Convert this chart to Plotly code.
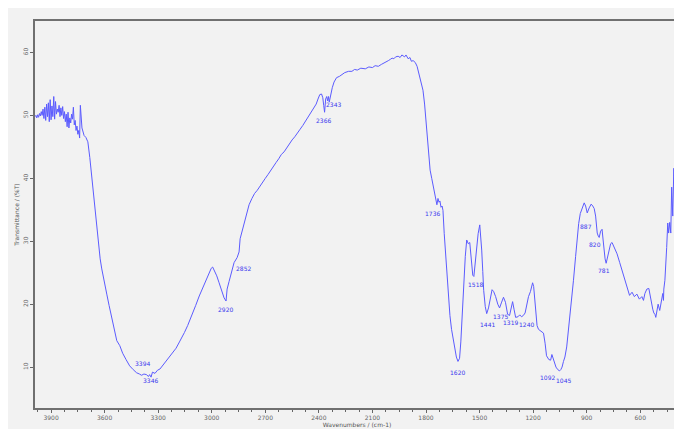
import plotly.graph_objects as go

# ---- spectrum data (wavenumber cm-1, transmittance %T) ----
wavenumber = [
    3990, 3985, 3980, 3975, 3970, 3965, 3960, 3955, 3950, 3945, 3940, 3935, 3930, 3925,
    3920, 3915, 3910, 3905, 3900, 3895, 3890, 3885, 3880, 3875, 3870, 3865, 3860, 3855,
    3850, 3845, 3840, 3835, 3830, 3825, 3820, 3815, 3810, 3805, 3800, 3795, 3790, 3785,
    3780, 3775, 3770, 3765, 3760, 3755, 3750, 3745, 3740, 3736, 3727, 3715, 3705, 3694,
    3683, 3670, 3655, 3638, 3625, 3616, 3600, 3588, 3575, 3560, 3543, 3532, 3515, 3499,
    3480, 3460, 3440, 3421, 3405, 3393, 3380, 3365, 3355, 3348, 3340, 3332, 3318, 3304,
    3290, 3276, 3262, 3248, 3234, 3220, 3200, 3181, 3165, 3153, 3135, 3115, 3090, 3070,
    3050, 3031, 3015, 3003, 2995, 2986, 2972, 2959, 2945, 2931, 2920, 2914, 2903, 2892,
    2875, 2858, 2847, 2841, 2830, 2819, 2805, 2791, 2775, 2760, 2745, 2730, 2715, 2700,
    2685, 2670, 2655, 2640, 2625, 2610, 2595, 2580, 2565, 2550, 2535, 2520, 2505, 2490,
    2475, 2460, 2445, 2430, 2415, 2405, 2395, 2385, 2378, 2373, 2368, 2362, 2356, 2351,
    2346, 2342, 2335, 2325, 2315, 2301, 2285, 2270, 2255, 2234, 2215, 2200, 2185, 2165,
    2140, 2120, 2100, 2085, 2067, 2050, 2035, 2020, 2011, 2000, 1990, 1980, 1970, 1956,
    1945, 1935, 1928, 1920, 1912, 1905, 1900, 1890, 1882, 1872, 1860, 1850, 1844, 1830,
    1817, 1808, 1800, 1790, 1777, 1768, 1761, 1750, 1744, 1739, 1733, 1727, 1722, 1716,
    1710, 1705, 1698, 1688, 1677, 1666, 1657, 1649, 1640, 1630, 1621, 1612, 1605, 1599,
    1590, 1580, 1572, 1563, 1555, 1549, 1544, 1538, 1532, 1524, 1516, 1508, 1499, 1493,
    1488, 1482, 1477, 1468, 1460, 1450, 1440, 1430, 1421, 1410, 1398, 1388, 1378, 1366,
    1355, 1343, 1332, 1323, 1315, 1307, 1298, 1285, 1275, 1265, 1255, 1245, 1235, 1226,
    1215, 1203, 1197, 1192, 1185, 1178, 1170, 1160, 1150, 1142, 1133, 1125, 1112, 1102,
    1095, 1088, 1080, 1072, 1062, 1052, 1045, 1038, 1030, 1022, 1012, 1002, 990, 974,
    962, 953, 945, 936, 925, 914, 906, 897, 886, 875, 866, 858, 850, 841, 835, 830,
    822, 814, 808, 803, 797, 791, 783, 775, 766, 758, 745, 730, 715, 702, 688, 674,
    660, 646, 633, 619, 605, 591, 582, 574, 563, 552, 545, 540, 535, 530, 524, 518,
    513, 507, 500, 491, 483, 474, 470, 468, 462, 457, 452, 446, 441, 435, 429, 424,
    418, 412, 407,
]
transmittance = [
    49.8, 50.0, 49.6, 50.1, 49.7, 50.3, 49.9, 50.6, 50.0, 51.0, 49.5, 51.3, 49.2, 51.8,
    49.8, 52.0, 49.0, 52.5, 49.3, 51.5, 49.8, 53.0, 49.4, 52.2, 50.2, 51.0, 50.5, 51.6,
    49.8, 51.2, 50.0, 51.4, 49.5, 50.6, 49.0, 50.2, 48.2, 50.5, 48.0, 49.6, 48.8, 50.2,
    49.4, 51.3, 48.5, 49.2, 47.6, 48.3, 47.0, 47.6, 46.4, 51.6, 48.0, 46.8, 46.5, 45.8,
    43.3, 39.5, 35.4, 29.8, 27.2, 25.6, 23.6, 21.6, 19.8, 17.8, 15.6, 14.2, 13.4, 12.2,
    11.2, 10.2, 9.6, 9.1, 8.9, 8.7, 8.9, 8.8, 8.5, 8.8, 8.4, 9.2, 9.0, 9.5,
    9.7, 10.2, 10.6, 11.1, 11.6, 12.2, 13.0, 14.0, 14.8, 15.5, 16.6, 17.9, 19.8, 21.3,
    22.7, 24.0, 25.0, 25.7, 25.9, 25.4, 24.5, 23.4, 22.2, 21.0, 20.5, 22.4, 23.6, 24.9,
    26.6, 27.4, 28.3, 30.4, 31.6, 32.6, 34.3, 35.8, 36.8, 37.6, 38.1, 38.8, 39.3, 40.0,
    40.6, 41.3, 41.8, 42.5, 43.1, 43.8, 44.2, 44.9, 45.6, 46.1, 46.6, 47.3, 47.8, 48.4,
    49.1, 49.7, 50.3, 51.0, 51.8, 52.6, 53.3, 53.4, 52.8, 51.6, 50.5, 52.6, 53.0, 52.3,
    53.0, 52.1, 53.3, 54.4, 55.3, 56.0, 56.2, 56.5, 56.8, 57.0, 57.0, 57.3, 57.2, 57.5,
    57.4, 57.7, 57.6, 57.9, 57.8, 58.1, 58.3, 58.6, 58.7, 58.9, 59.1, 59.0, 59.3, 59.4,
    59.2, 59.6, 59.5, 59.3, 59.6, 59.1, 59.0, 59.2, 58.6, 58.7, 58.4, 57.8, 57.1, 55.6,
    54.0, 51.8, 49.2, 45.2, 41.3, 40.0, 39.0, 37.2, 36.0, 35.8, 36.8, 36.2, 36.4, 35.4,
    35.6, 34.9, 31.2, 27.2, 22.0, 18.2, 16.0, 14.8, 13.0, 11.6, 10.9, 11.4, 14.0, 17.5,
    22.4, 27.6, 30.2, 29.6, 29.8, 27.6, 25.4, 24.6, 24.4, 26.8, 29.0, 31.2, 32.6, 30.8,
    28.6, 25.2, 22.2, 19.6, 18.5, 19.4, 21.2, 22.3, 22.0, 21.2, 20.0, 19.4, 20.2, 21.1,
    20.3, 18.4, 18.2, 19.6, 20.4, 19.2, 17.9, 18.0, 18.3, 18.0, 18.2, 18.6, 19.8, 21.2,
    22.0, 23.4, 22.8, 21.2, 18.8, 16.6, 16.0, 15.8, 15.6, 15.4, 13.8, 11.8, 11.2, 11.1,
    12.0, 11.3, 10.4, 10.0, 9.6, 9.4, 9.6, 10.0, 10.9, 11.6, 13.2, 15.8, 19.6, 23.8,
    27.6, 30.6, 32.8, 34.4, 35.4, 36.1, 35.6, 34.5, 35.3, 35.9, 35.6, 35.2, 34.0, 31.3,
    30.8, 30.6, 31.6, 31.9, 30.2, 28.6, 27.2, 26.5, 27.6, 28.9, 29.6, 29.8, 29.0, 28.0,
    26.6, 25.4, 24.2, 22.6, 21.4, 21.9, 21.2, 21.6, 20.8, 21.2, 20.6, 21.7, 22.4, 22.5,
    21.4, 20.3, 19.8, 19.2, 18.6, 18.4, 17.9, 18.9, 20.0, 19.0, 20.2, 21.7, 20.6, 22.4,
    23.8, 28.0, 29.0, 32.9, 31.3, 33.0, 31.3, 38.6, 34.0, 41.6, 38.0, 36.5, 31.7, 32.5,
]

# ---- peak labels (text, wavenumber position, transmittance position) ----
peak_labels = ["3394", "3346", "2920", "2852", "2366", "2343", "1736", "1620", "1518",
               "1441", "1375", "1319", "1240", "1092", "1045", "887", "820", "781"]
label_x = [3387, 3343, 2925, 2825, 2373, 2318, 1766, 1621, 1521,
           1454, 1382, 1326, 1237, 1120, 1031, 903, 853, 802]
label_y = [10.5, 7.8, 19.2, 25.7, 49.2, 51.7, 34.4, 9.2, 23.2,
           16.7, 18.1, 17.1, 16.8, 8.4, 7.9, 32.4, 29.5, 25.4]

x_ticks = [3900, 3600, 3300, 3000, 2700, 2400, 2100, 1800, 1500, 1200, 900, 600]
y_ticks = [10, 20, 30, 40, 50, 60]

LINE = "#5b5bff"
BG = "#f2f2f2"

fig = go.Figure()
fig.add_trace(go.Scatter(
    x=wavenumber, y=transmittance, mode="lines",
    line=dict(color=LINE, width=1), hoverinfo="skip", showlegend=False,
))

for t, xv, yv in zip(peak_labels, label_x, label_y):
    fig.add_annotation(x=xv, y=yv, text=t, showarrow=False,
                       font=dict(size=6, color="#3a3aee", family="DejaVu Sans"))

fig.update_layout(
    width=682, height=429,
    margin=dict(l=27, r=11, t=13, b=29, autoexpand=False),
    paper_bgcolor=BG, plot_bgcolor=BG,
    font=dict(family="DejaVu Sans", size=6, color="#555"),
    showlegend=False,
)
fig.update_xaxes(
    range=[3990, 383], tickvals=x_ticks, ticktext=[str(v) for v in x_ticks],
    ticks="outside", ticklen=3, tickcolor="#666", tickfont=dict(size=6, color="#666"),
    minor=dict(dtick=75, ticks="outside", ticklen=2, tickcolor="#666"),
    showgrid=False, zeroline=False, automargin=False,
    showline=True, mirror=True, linecolor="#707070", linewidth=1.6,
    title=dict(text="Wavenumbers / (cm-1)", font=dict(size=6, color="#555"), standoff=0),
)
fig.update_yaxes(
    range=[3.5, 65], tickvals=y_ticks, ticktext=[str(v) for v in y_ticks], tickangle=-90,
    ticks="outside", ticklen=3, tickcolor="#666", tickfont=dict(size=6, color="#666"),
    showgrid=False, zeroline=False, automargin=False,
    showline=True, mirror=True, linecolor="#707070", linewidth=1.6,
    title=dict(text="Transmittance / (%T)", font=dict(size=6, color="#555"), standoff=2),
)

fig.write_html("out.html")
